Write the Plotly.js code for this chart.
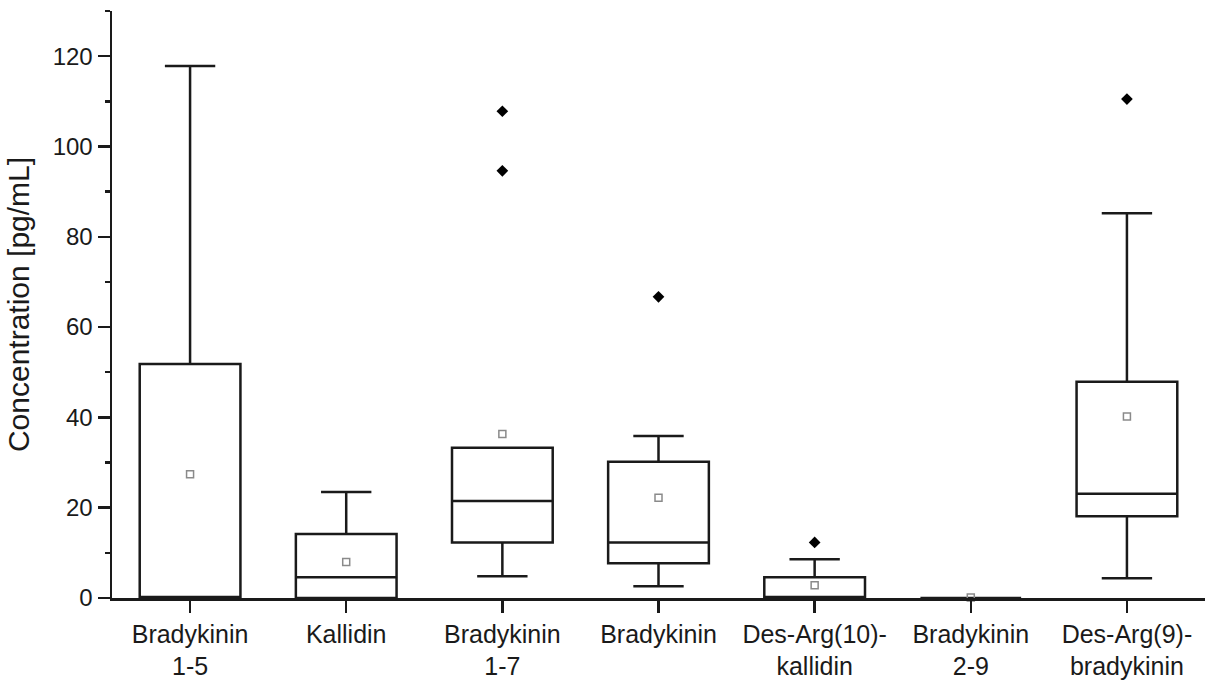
<!DOCTYPE html>
<html>
<head>
<meta charset="utf-8">
<script src="https://cdn.plot.ly/plotly-3.0.1.min.js"></script>
<style>
  html, body { margin: 0; padding: 0; background: #fff; }
  #chart { width: 1205px; height: 684px; }
</style>
</head>
<body>
<div id="chart"></div>
<script>
// ---- data ----
const categories = ["Bradykinin 1-5", "Kallidin", "Bradykinin 1-7", "Bradykinin",
                    "Des-Arg(10)-kallidin", "Bradykinin 2-9", "Des-Arg(9)-bradykinin"];
const tickLabels = ["Bradykinin<br>1-5", "Kallidin", "Bradykinin<br>1-7", "Bradykinin",
                    "Des-Arg(10)-<br>kallidin", "Bradykinin<br>2-9", "Des-Arg(9)-<br>bradykinin"];
const lowerFence = [0, 0, 4.8, 2.6, 0, 0, 4.4];
const q1Values   = [0, 0, 12.3, 7.7, 0, 0, 18.1];
const medians    = [0, 4.6, 21.5, 12.3, 0, 0, 23.1];
const q3Values   = [51.8, 14.2, 33.3, 30.2, 4.6, 0, 47.9];
const upperFence = [117.8, 23.5, 33.3, 35.9, 8.6, 0, 85.2];
const means      = [27.4, 8.0, 36.3, 22.2, 2.8, 0.1, 40.2];
const outlierCats = ["Bradykinin 1-7", "Bradykinin 1-7", "Bradykinin",
                     "Des-Arg(10)-kallidin", "Des-Arg(9)-bradykinin"];
const outlierVals = [107.8, 94.6, 66.7, 12.3, 110.5];

const font = "Liberation Sans, Arial, sans-serif";
const ink = "#1a1a1a";

const traces = [
  {
    type: "box",
    x: categories,
    q1: q1Values,
    median: medians,
    q3: q3Values,
    lowerfence: lowerFence,
    upperfence: upperFence,
    boxpoints: false,
    width: 0.645,
    whiskerwidth: 0.5,
    fillcolor: "#ffffff",
    line: { color: ink, width: 2.5 },
    hoverinfo: "skip",
    showlegend: false
  },
  {
    type: "scatter",
    mode: "markers",
    x: categories,
    y: means,
    cliponaxis: false,
    marker: { symbol: "square-open", size: 7, color: "#8a8a8a", line: { width: 1.5, color: "#8a8a8a" } },
    showlegend: false
  },
  {
    type: "scatter",
    mode: "markers",
    x: outlierCats,
    y: outlierVals,
    cliponaxis: false,
    marker: { symbol: "diamond", size: 9, color: "#000000" },
    showlegend: false
  }
];

const layout = {
  width: 1205,
  height: 684,
  margin: { l: 112, r: 0, t: 11, b: 86 },
  paper_bgcolor: "#ffffff",
  plot_bgcolor: "#ffffff",
  font: { family: font, color: ink },
  showlegend: false,
  xaxis: {
    type: "category",
    categoryorder: "array",
    categoryarray: categories,
    range: [-0.5, 6.5],
    tickmode: "array",
    tickvals: categories,
    ticktext: tickLabels,
    tickfont: { size: 25, family: font, color: ink },
    ticks: "outside",
    ticklen: 12,
    tickwidth: 2.5,
    tickcolor: ink,
    showline: true,
    linecolor: ink,
    linewidth: 2.5,
    showgrid: false,
    zeroline: false,
    fixedrange: true
  },
  yaxis: {
    range: [0, 130],
    tickmode: "array",
    tickvals: [0, 20, 40, 60, 80, 100, 120],
    tickfont: { size: 24, family: font, color: ink },
    ticks: "outside",
    ticklen: 12,
    tickwidth: 2.5,
    tickcolor: ink,
    minor: { ticks: "outside", ticklen: 5, tickwidth: 2.5, tickcolor: ink, dtick: 10, tick0: 0, showgrid: false },
    showline: true,
    linecolor: ink,
    linewidth: 2.5,
    showgrid: false,
    zeroline: false,
    title: { text: "Concentration [pg/mL]", font: { size: 30, family: font, color: ink }, standoff: 14 },
    fixedrange: true
  }
};

Plotly.newPlot("chart", traces, layout, { displayModeBar: false, staticPlot: true });
</script>
</body>
</html>
